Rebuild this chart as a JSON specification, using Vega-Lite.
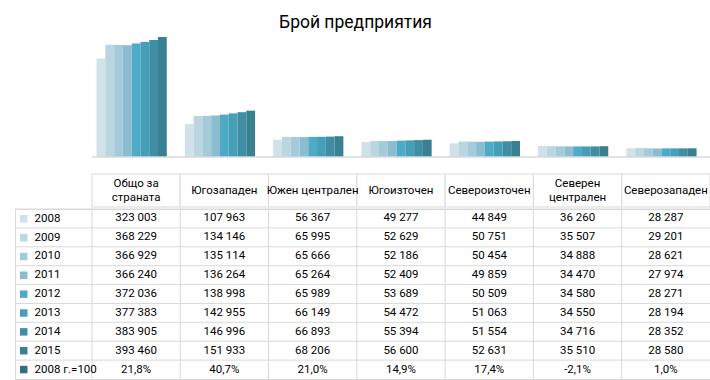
{
  "$schema": "https://vega.github.io/schema/vega-lite/v6.json",
  "padding": {"left": 14, "top": 13, "right": 1, "bottom": 0},
  "background": "white",
  "title": {"text": "Брой предприятия", "font": "Roboto", "fontSize": 17.5, "fontWeight": "normal", "color": "#000000", "anchor": "middle", "dx": -7, "offset": 4},
  "config": {
    "locale": {"number": {"decimal": ",", "thousands": " ", "grouping": [3], "currency": ["", ""], "minus": "-"}},
    "font": "Roboto",
    "view": {"stroke": null},
    "text": {"font": "Roboto", "fontSize": 11.5, "color": "#000000"}
  },
  "data": {"values": [
    {"r": "Общо за\nстраната", "y": "2008", "v": 323003},
    {"r": "Югозападен", "y": "2008", "v": 107963},
    {"r": "Южен централен", "y": "2008", "v": 56367},
    {"r": "Югоизточен", "y": "2008", "v": 49277},
    {"r": "Североизточен", "y": "2008", "v": 44849},
    {"r": "Северен\nцентрален", "y": "2008", "v": 36260},
    {"r": "Северозападен", "y": "2008", "v": 28287},
    {"r": "Общо за\nстраната", "y": "2009", "v": 368229},
    {"r": "Югозападен", "y": "2009", "v": 134146},
    {"r": "Южен централен", "y": "2009", "v": 65995},
    {"r": "Югоизточен", "y": "2009", "v": 52629},
    {"r": "Североизточен", "y": "2009", "v": 50751},
    {"r": "Северен\nцентрален", "y": "2009", "v": 35507},
    {"r": "Северозападен", "y": "2009", "v": 29201},
    {"r": "Общо за\nстраната", "y": "2010", "v": 366929},
    {"r": "Югозападен", "y": "2010", "v": 135114},
    {"r": "Южен централен", "y": "2010", "v": 65666},
    {"r": "Югоизточен", "y": "2010", "v": 52186},
    {"r": "Североизточен", "y": "2010", "v": 50454},
    {"r": "Северен\nцентрален", "y": "2010", "v": 34888},
    {"r": "Северозападен", "y": "2010", "v": 28621},
    {"r": "Общо за\nстраната", "y": "2011", "v": 366240},
    {"r": "Югозападен", "y": "2011", "v": 136264},
    {"r": "Южен централен", "y": "2011", "v": 65264},
    {"r": "Югоизточен", "y": "2011", "v": 52409},
    {"r": "Североизточен", "y": "2011", "v": 49859},
    {"r": "Северен\nцентрален", "y": "2011", "v": 34470},
    {"r": "Северозападен", "y": "2011", "v": 27974},
    {"r": "Общо за\nстраната", "y": "2012", "v": 372036},
    {"r": "Югозападен", "y": "2012", "v": 138998},
    {"r": "Южен централен", "y": "2012", "v": 65989},
    {"r": "Югоизточен", "y": "2012", "v": 53689},
    {"r": "Североизточен", "y": "2012", "v": 50509},
    {"r": "Северен\nцентрален", "y": "2012", "v": 34580},
    {"r": "Северозападен", "y": "2012", "v": 28271},
    {"r": "Общо за\nстраната", "y": "2013", "v": 377383},
    {"r": "Югозападен", "y": "2013", "v": 142955},
    {"r": "Южен централен", "y": "2013", "v": 66149},
    {"r": "Югоизточен", "y": "2013", "v": 54472},
    {"r": "Североизточен", "y": "2013", "v": 51063},
    {"r": "Северен\nцентрален", "y": "2013", "v": 34550},
    {"r": "Северозападен", "y": "2013", "v": 28194},
    {"r": "Общо за\nстраната", "y": "2014", "v": 383905},
    {"r": "Югозападен", "y": "2014", "v": 146996},
    {"r": "Южен централен", "y": "2014", "v": 66893},
    {"r": "Югоизточен", "y": "2014", "v": 55394},
    {"r": "Североизточен", "y": "2014", "v": 51554},
    {"r": "Северен\nцентрален", "y": "2014", "v": 34716},
    {"r": "Северозападен", "y": "2014", "v": 28352},
    {"r": "Общо за\nстраната", "y": "2015", "v": 393460},
    {"r": "Югозападен", "y": "2015", "v": 151933},
    {"r": "Южен централен", "y": "2015", "v": 68206},
    {"r": "Югоизточен", "y": "2015", "v": 56600},
    {"r": "Североизточен", "y": "2015", "v": 52631},
    {"r": "Северен\nцентрален", "y": "2015", "v": 35510},
    {"r": "Северозападен", "y": "2015", "v": 28580},
    {"r": "Общо за\nстраната", "y": "2008 г.=100", "v": 0.218},
    {"r": "Югозападен", "y": "2008 г.=100", "v": 0.407},
    {"r": "Южен централен", "y": "2008 г.=100", "v": 0.210},
    {"r": "Югоизточен", "y": "2008 г.=100", "v": 0.149},
    {"r": "Североизточен", "y": "2008 г.=100", "v": 0.174},
    {"r": "Северен\nцентрален", "y": "2008 г.=100", "v": -0.021},
    {"r": "Северозападен", "y": "2008 г.=100", "v": 0.010}
  ]},
  "spacing": 15,
  "vconcat": [
    {
      "width": 695,
      "height": 122,
      "layer": [
        {
          "mark": {"type": "bar"},
          "encoding": {
            "x": {"field": "r", "type": "nominal", "axis": null,
                  "scale": {"domain": ["Общо за\nстраната", "Югозападен", "Южен централен", "Югоизточен", "Североизточен", "Северен\nцентрален", "Северозападен"], "paddingInner": 0, "paddingOuter": 0.4355, "align": 1}},
            "xOffset": {"field": "y", "type": "nominal",
                  "scale": {"domain": ["2008", "2009", "2010", "2011", "2012", "2013", "2014", "2015", "2008 г.=100"], "paddingInner": 0, "paddingOuter": 0.53}},
            "y": {"field": "v", "type": "quantitative", "axis": null, "scale": {"domain": [0, 400000], "nice": false}},
            "color": {"field": "y", "type": "nominal",
                  "scale": {"domain": ["2008", "2009", "2010", "2011", "2012", "2013", "2014", "2015", "2008 г.=100"],
                            "range": ["#cfe1e9", "#b9d6e1", "#a4cbda", "#8abdd0", "#4eabc6", "#469fb8", "#3f8ea4", "#398093", "#33707f"]},
                  "legend": {"title": null, "orient": "none", "legendX": 3, "legendY": 178, "symbolType": "square", "symbolSize": 56, "symbolStrokeWidth": 0, "labelFont": "Roboto", "labelFontSize": 11.5, "labelColor": "#000000", "rowPadding": 5.85, "labelOffset": 5, "padding": 0, "labelLimit": 80}}
          }
        },
        {
          "transform": [{"filter": "datum.y == '2008'"}],
          "mark": {"type": "rect", "fill": null, "stroke": "#d9d9d9", "strokeWidth": 1},
          "encoding": {
            "x": {"field": "r", "type": "nominal", "axis": null},
            "y": {"datum": 0},
            "y2": {"datum": 0}
          }
        }
      ]
    },
    {
      "spacing": 0,
      "vconcat": [
        {
          "width": 695,
          "height": 33,
          "transform": [{"filter": "datum.y == '2008'"}],
          "layer": [
            {
              "mark": {"type": "rect", "fill": "white", "stroke": "#d9d9d9", "strokeWidth": 1},
              "encoding": {
                "x": {"field": "r", "type": "nominal", "axis": null,
                      "scale": {"domain": ["Общо за\nстраната", "Югозападен", "Южен централен", "Югоизточен", "Североизточен", "Северен\nцентрален", "Северозападен"], "paddingInner": 0, "paddingOuter": 0.4355, "align": 1}}
              }
            },
            {
              "transform": [{"filter": "indexof(datum.r, '\\n') < 0"}],
              "mark": {"type": "text"},
              "encoding": {
                "x": {"field": "r", "type": "nominal", "axis": null},
                "text": {"field": "r", "type": "nominal"}
              }
            },
            {
              "transform": [{"filter": "indexof(datum.r, '\\n') >= 0"}],
              "mark": {"type": "text", "lineBreak": "\n", "lineHeight": 14, "dy": -7},
              "encoding": {
                "x": {"field": "r", "type": "nominal", "axis": null},
                "text": {"field": "r", "type": "nominal"}
              }
            }
          ]
        },
        {
          "width": 695,
          "height": 170,
          "view": {"stroke": "#d9d9d9"},
          "layer": [
            {
              "transform": [{"filter": "datum.r == 'Югозападен'"}],
              "mark": {"type": "rule", "color": "#d9d9d9"},
              "encoding": {
                "y": {"field": "y", "type": "nominal", "bandPosition": 0, "axis": null,
                      "scale": {"type": "band", "domain": ["2008", "2009", "2010", "2011", "2012", "2013", "2014", "2015", "2008 г.=100"], "paddingInner": 0, "paddingOuter": 0}}
              }
            },
            {
              "transform": [{"filter": "datum.y == '2008'"}],
              "mark": {"type": "rule", "color": "#d9d9d9"},
              "encoding": {
                "x": {"field": "r", "type": "nominal", "bandPosition": 0, "axis": null,
                      "scale": {"type": "band", "domain": ["Общо за\nстраната", "Югозападен", "Южен централен", "Югоизточен", "Североизточен", "Северен\nцентрален", "Северозападен"], "paddingInner": 0, "paddingOuter": 0.4355, "align": 1}}
              }
            },
            {
              "transform": [{"filter": "datum.y != '2008 г.=100'"}],
              "mark": {"type": "text"},
              "encoding": {
                "x": {"field": "r", "type": "nominal", "axis": null},
                "y": {"field": "y", "type": "nominal", "axis": null},
                "text": {"field": "v", "type": "quantitative", "format": ",d"}
              }
            },
            {
              "transform": [{"filter": "datum.y == '2008 г.=100'"}],
              "mark": {"type": "text"},
              "encoding": {
                "x": {"field": "r", "type": "nominal", "axis": null},
                "y": {"field": "y", "type": "nominal", "axis": null},
                "text": {"field": "v", "type": "quantitative", "format": ".1%"}
              }
            }
          ]
        }
      ]
    }
  ]
}
